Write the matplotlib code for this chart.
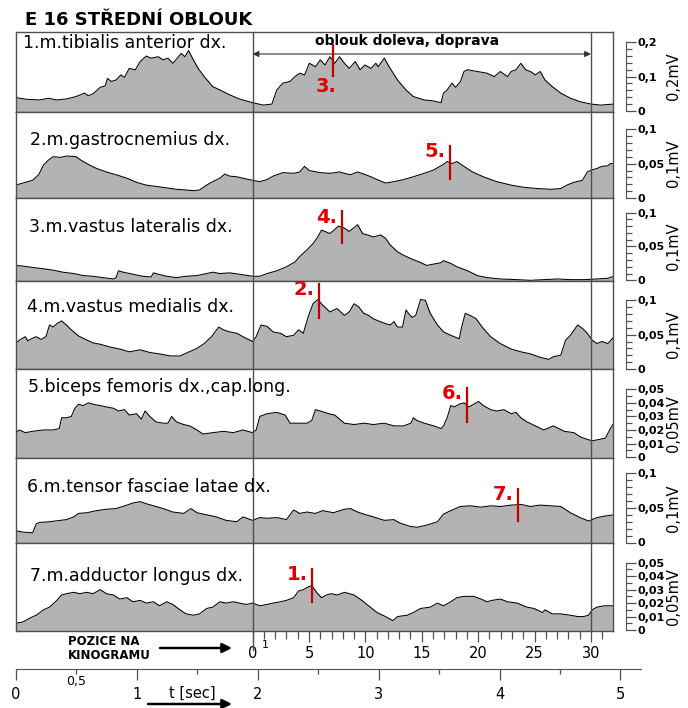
import matplotlib
matplotlib.use("Agg")
import matplotlib.pyplot as plt
import numpy as np

plt.rcParams['font.family'] = ['DejaVu Sans']

# kinogram frames 0 and 30 on the time axis [s]
KINO_T0 = 1.96
KINO_T30 = 4.76
T_END = 4.945
T_AXIS_END = 5.17

FILL = '#b3b3b3'
FRAME = '#505050'
RED = '#e00000'
RED_LINE = '#c40000'


def kino_t(pos):
    return KINO_T0 + pos * (KINO_T30 - KINO_T0) / 30.0


def fmt_mv(v):
    if abs(v) < 1e-9:
        return '0'
    return ('%g' % round(v, 3)).replace('.', ',')


# EMG envelopes, time [s] / amplitude [mV]
tib_t = [0.00, 0.09, 0.20, 0.27, 0.34, 0.42, 0.50, 0.57, 0.60, 0.64, 0.70, 0.74, 0.76, 0.79, 0.83, 0.87,
         0.90, 0.94, 0.99, 1.03, 1.08, 1.12, 1.18, 1.22, 1.26, 1.30, 1.33, 1.37, 1.40, 1.43, 1.47, 1.51,
         1.56, 1.63, 1.69, 1.77, 1.85, 1.96, 2.05, 2.12, 2.16, 2.21, 2.27, 2.31, 2.35, 2.39, 2.43, 2.48,
         2.52, 2.56, 2.60, 2.64, 2.68, 2.72, 2.76, 2.81, 2.85, 2.89, 2.94, 2.98, 3.00, 3.05, 3.09, 3.16,
         3.23, 3.29, 3.38, 3.46, 3.52, 3.54, 3.57, 3.61, 3.64, 3.68, 3.71, 3.74, 3.82, 3.90, 3.96, 4.01,
         4.07, 4.10, 4.14, 4.18, 4.22, 4.26, 4.30, 4.34, 4.38, 4.44, 4.51, 4.59, 4.67, 4.76, 4.84, 4.95]
tib_v = [0.039, 0.034, 0.032, 0.037, 0.032, 0.035, 0.042, 0.052, 0.044, 0.050, 0.069, 0.073, 0.095, 0.086,
         0.090, 0.105, 0.098, 0.124, 0.120, 0.144, 0.160, 0.154, 0.158, 0.149, 0.154, 0.139, 0.151, 0.168,
         0.158, 0.176, 0.149, 0.124, 0.100, 0.071, 0.061, 0.047, 0.035, 0.024, 0.017, 0.020, 0.061, 0.081,
         0.086, 0.100, 0.110, 0.105, 0.139, 0.129, 0.149, 0.134, 0.158, 0.139, 0.158, 0.139, 0.124, 0.144,
         0.120, 0.134, 0.124, 0.139, 0.129, 0.154, 0.129, 0.090, 0.061, 0.042, 0.032, 0.029, 0.024, 0.052,
         0.061, 0.081, 0.069, 0.086, 0.115, 0.120, 0.115, 0.110, 0.100, 0.115, 0.100, 0.115, 0.120, 0.139,
         0.120, 0.115, 0.105, 0.115, 0.090, 0.071, 0.052, 0.037, 0.027, 0.020, 0.017, 0.020]

gas_t = [0.00, 0.06, 0.14, 0.19, 0.23, 0.27, 0.31, 0.37, 0.42, 0.50, 0.54, 0.61, 0.67, 0.75, 0.83, 0.92,
         1.00, 1.08, 1.17, 1.25, 1.33, 1.41, 1.47, 1.52, 1.58, 1.63, 1.69, 1.73, 1.77, 1.83, 1.88, 1.96,
         2.02, 2.08, 2.13, 2.21, 2.30, 2.35, 2.39, 2.43, 2.52, 2.60, 2.68, 2.72, 2.77, 2.83, 2.88, 2.94,
         2.99, 3.06, 3.13, 3.21, 3.29, 3.38, 3.46, 3.53, 3.57, 3.61, 3.65, 3.71, 3.78, 3.87, 3.98, 4.10,
         4.20, 4.32, 4.43, 4.51, 4.56, 4.62, 4.69, 4.73, 4.77, 4.81, 4.85, 4.90, 4.92, 4.95]
gas_v = [0.019, 0.022, 0.026, 0.034, 0.048, 0.055, 0.060, 0.059, 0.061, 0.060, 0.055, 0.048, 0.043, 0.038,
         0.034, 0.029, 0.023, 0.019, 0.017, 0.015, 0.013, 0.012, 0.011, 0.012, 0.019, 0.024, 0.029, 0.035,
         0.032, 0.031, 0.029, 0.026, 0.024, 0.027, 0.032, 0.037, 0.036, 0.038, 0.046, 0.040, 0.037, 0.036,
         0.038, 0.036, 0.034, 0.038, 0.035, 0.031, 0.027, 0.022, 0.024, 0.027, 0.031, 0.036, 0.041, 0.048,
         0.053, 0.050, 0.053, 0.046, 0.038, 0.031, 0.024, 0.019, 0.016, 0.014, 0.013, 0.014, 0.019, 0.023,
         0.026, 0.038, 0.041, 0.043, 0.046, 0.047, 0.050, 0.050]

vl_t = [0.00, 0.06, 0.14, 0.23, 0.31, 0.39, 0.48, 0.56, 0.64, 0.72, 0.81, 0.83, 0.85, 0.89, 0.97, 1.05,
        1.12, 1.14, 1.18, 1.25, 1.33, 1.41, 1.50, 1.58, 1.63, 1.69, 1.77, 1.85, 1.96, 2.02, 2.08, 2.16,
        2.24, 2.31, 2.35, 2.41, 2.46, 2.50, 2.53, 2.56, 2.60, 2.64, 2.67, 2.72, 2.76, 2.78, 2.83, 2.87,
        2.91, 2.96, 3.02, 3.06, 3.10, 3.16, 3.21, 3.27, 3.34, 3.40, 3.46, 3.52, 3.54, 3.60, 3.65, 3.74,
        3.82, 3.90, 4.01, 4.15, 4.26, 4.37, 4.48, 4.59, 4.70, 4.81, 4.90, 4.95]
vl_v = [0.022, 0.021, 0.019, 0.017, 0.015, 0.012, 0.010, 0.007, 0.006, 0.004, 0.002, 0.004, 0.014, 0.012,
        0.009, 0.006, 0.005, 0.011, 0.009, 0.006, 0.004, 0.006, 0.007, 0.010, 0.012, 0.010, 0.011, 0.009,
        0.006, 0.006, 0.010, 0.014, 0.020, 0.027, 0.035, 0.045, 0.054, 0.064, 0.074, 0.072, 0.069, 0.075,
        0.080, 0.077, 0.072, 0.075, 0.082, 0.069, 0.067, 0.064, 0.067, 0.062, 0.052, 0.042, 0.037, 0.032,
        0.027, 0.022, 0.024, 0.026, 0.029, 0.025, 0.020, 0.014, 0.007, 0.004, 0.002, 0.001, 0.000, 0.001,
        0.002, 0.001, 0.001, 0.002, 0.003, 0.006]

vm_t = [0.00, 0.03, 0.08, 0.10, 0.13, 0.17, 0.21, 0.25, 0.28, 0.31, 0.34, 0.38, 0.42, 0.46, 0.52, 0.59,
        0.64, 0.70, 0.78, 0.86, 0.94, 1.03, 1.11, 1.19, 1.28, 1.36, 1.41, 1.50, 1.56, 1.62, 1.68, 1.72,
        1.77, 1.83, 1.88, 1.96, 1.99, 2.03, 2.08, 2.13, 2.19, 2.24, 2.30, 2.34, 2.38, 2.42, 2.46, 2.50,
        2.54, 2.60, 2.66, 2.72, 2.76, 2.80, 2.84, 2.88, 2.92, 2.96, 3.00, 3.06, 3.10, 3.13, 3.16, 3.20,
        3.23, 3.25, 3.28, 3.31, 3.35, 3.39, 3.43, 3.49, 3.54, 3.60, 3.67, 3.69, 3.72, 3.76, 3.81, 3.86,
        3.93, 4.01, 4.10, 4.18, 4.26, 4.34, 4.41, 4.45, 4.51, 4.55, 4.59, 4.65, 4.69, 4.73, 4.77, 4.81,
        4.85, 4.90, 4.95]
vm_v = [0.037, 0.042, 0.047, 0.041, 0.044, 0.047, 0.043, 0.047, 0.064, 0.061, 0.066, 0.070, 0.064, 0.057,
        0.048, 0.042, 0.038, 0.036, 0.032, 0.029, 0.025, 0.028, 0.024, 0.022, 0.019, 0.019, 0.023, 0.030,
        0.037, 0.047, 0.061, 0.057, 0.054, 0.052, 0.047, 0.040, 0.047, 0.064, 0.062, 0.054, 0.052, 0.047,
        0.049, 0.057, 0.052, 0.076, 0.095, 0.101, 0.093, 0.083, 0.088, 0.078, 0.083, 0.095, 0.090, 0.081,
        0.078, 0.073, 0.070, 0.066, 0.064, 0.069, 0.061, 0.061, 0.086, 0.081, 0.075, 0.078, 0.101, 0.100,
        0.081, 0.064, 0.054, 0.049, 0.044, 0.061, 0.081, 0.078, 0.073, 0.061, 0.047, 0.037, 0.029, 0.025,
        0.022, 0.017, 0.014, 0.018, 0.020, 0.042, 0.049, 0.064, 0.059, 0.052, 0.042, 0.037, 0.040, 0.037,
        0.047]

bf_t = [0.00, 0.03, 0.08, 0.14, 0.23, 0.31, 0.36, 0.38, 0.42, 0.46, 0.49, 0.52, 0.56, 0.60, 0.64, 0.70,
        0.75, 0.81, 0.85, 0.90, 0.94, 1.00, 1.04, 1.07, 1.11, 1.16, 1.22, 1.26, 1.29, 1.33, 1.39, 1.44,
        1.50, 1.55, 1.63, 1.72, 1.80, 1.88, 1.96, 1.99, 2.02, 2.08, 2.16, 2.23, 2.27, 2.32, 2.41, 2.45,
        2.48, 2.52, 2.59, 2.64, 2.72, 2.80, 2.88, 2.96, 3.05, 3.13, 3.21, 3.27, 3.29, 3.32, 3.38, 3.46,
        3.52, 3.54, 3.57, 3.60, 3.63, 3.67, 3.71, 3.75, 3.79, 3.83, 3.87, 3.93, 3.98, 4.04, 4.10, 4.14,
        4.18, 4.23, 4.30, 4.37, 4.45, 4.54, 4.62, 4.67, 4.73, 4.77, 4.83, 4.88, 4.92, 4.95]
bf_v = [0.018, 0.020, 0.018, 0.019, 0.020, 0.020, 0.021, 0.029, 0.029, 0.030, 0.036, 0.039, 0.038, 0.040,
        0.039, 0.038, 0.037, 0.036, 0.034, 0.035, 0.031, 0.032, 0.028, 0.034, 0.030, 0.026, 0.025, 0.025,
        0.030, 0.026, 0.024, 0.023, 0.020, 0.017, 0.018, 0.019, 0.018, 0.020, 0.018, 0.020, 0.030, 0.032,
        0.033, 0.031, 0.025, 0.025, 0.025, 0.027, 0.035, 0.034, 0.032, 0.031, 0.025, 0.024, 0.025, 0.024,
        0.025, 0.023, 0.023, 0.025, 0.029, 0.027, 0.025, 0.023, 0.021, 0.023, 0.029, 0.038, 0.037, 0.039,
        0.040, 0.037, 0.039, 0.041, 0.038, 0.035, 0.034, 0.035, 0.032, 0.033, 0.029, 0.026, 0.023, 0.020,
        0.023, 0.019, 0.018, 0.015, 0.013, 0.012, 0.013, 0.014, 0.021, 0.025]

tfl_t = [0.00, 0.06, 0.14, 0.17, 0.20, 0.28, 0.37, 0.42, 0.48, 0.52, 0.59, 0.67, 0.75, 0.83, 0.92, 0.97,
         1.03, 1.08, 1.14, 1.22, 1.30, 1.39, 1.45, 1.50, 1.58, 1.66, 1.74, 1.83, 1.88, 1.96, 2.02, 2.08,
         2.16, 2.24, 2.30, 2.35, 2.41, 2.48, 2.54, 2.63, 2.72, 2.77, 2.83, 2.88, 2.96, 3.05, 3.13, 3.18,
         3.27, 3.32, 3.40, 3.49, 3.54, 3.60, 3.68, 3.76, 3.85, 3.93, 4.01, 4.10, 4.18, 4.26, 4.34, 4.43,
         4.51, 4.59, 4.67, 4.74, 4.81, 4.87, 4.95]
tfl_v = [0.017, 0.015, 0.014, 0.027, 0.029, 0.030, 0.032, 0.033, 0.037, 0.042, 0.043, 0.046, 0.048, 0.049,
         0.054, 0.057, 0.059, 0.056, 0.053, 0.049, 0.044, 0.042, 0.049, 0.043, 0.040, 0.037, 0.032, 0.030,
         0.037, 0.032, 0.036, 0.035, 0.036, 0.033, 0.047, 0.042, 0.044, 0.042, 0.046, 0.043, 0.048, 0.049,
         0.044, 0.041, 0.037, 0.032, 0.033, 0.028, 0.023, 0.022, 0.025, 0.030, 0.041, 0.046, 0.052, 0.053,
         0.051, 0.053, 0.052, 0.054, 0.055, 0.052, 0.054, 0.053, 0.052, 0.043, 0.036, 0.031, 0.036, 0.038,
         0.040]

al_t = [0.00, 0.06, 0.12, 0.17, 0.23, 0.28, 0.34, 0.38, 0.42, 0.48, 0.53, 0.59, 0.64, 0.70, 0.75, 0.81,
        0.86, 0.92, 0.97, 1.03, 1.08, 1.14, 1.19, 1.25, 1.30, 1.36, 1.41, 1.47, 1.52, 1.58, 1.63, 1.69,
        1.74, 1.80, 1.85, 1.91, 1.96, 2.02, 2.08, 2.13, 2.19, 2.24, 2.30, 2.34, 2.38, 2.42, 2.45, 2.49,
        2.53, 2.57, 2.61, 2.66, 2.72, 2.80, 2.85, 2.92, 2.99, 3.06, 3.12, 3.16, 3.24, 3.29, 3.35, 3.43,
        3.49, 3.54, 3.60, 3.65, 3.71, 3.79, 3.85, 3.90, 3.94, 4.01, 4.07, 4.15, 4.23, 4.29, 4.36, 4.38,
        4.44, 4.51, 4.59, 4.65, 4.70, 4.74, 4.77, 4.81, 4.87, 4.92, 4.95]
al_v = [0.005, 0.006, 0.009, 0.011, 0.015, 0.017, 0.022, 0.026, 0.027, 0.028, 0.027, 0.028, 0.027, 0.030,
        0.027, 0.026, 0.023, 0.024, 0.021, 0.022, 0.020, 0.021, 0.018, 0.021, 0.019, 0.015, 0.012, 0.011,
        0.012, 0.016, 0.017, 0.021, 0.020, 0.021, 0.020, 0.019, 0.020, 0.018, 0.019, 0.020, 0.021, 0.022,
        0.024, 0.029, 0.030, 0.032, 0.033, 0.028, 0.024, 0.026, 0.027, 0.026, 0.028, 0.026, 0.023, 0.018,
        0.013, 0.010, 0.007, 0.010, 0.011, 0.013, 0.016, 0.017, 0.020, 0.018, 0.021, 0.024, 0.025, 0.025,
        0.023, 0.021, 0.022, 0.023, 0.021, 0.020, 0.017, 0.016, 0.013, 0.015, 0.012, 0.012, 0.011, 0.010,
        0.010, 0.011, 0.015, 0.017, 0.018, 0.018, 0.018]

muscles = ['1.m.tibialis anterior dx.', '2.m.gastrocnemius dx.', '3.m.vastus lateralis dx.',
           '4.m.vastus medialis dx.', '5.biceps femoris dx.,cap.long.', '6.m.tensor fasciae latae dx.',
           '7.m.adductor longus dx.']
series = [(tib_t, tib_v), (gas_t, gas_v), (vl_t, vl_v), (vm_t, vm_v),
          (bf_t, bf_v), (tfl_t, tfl_v), (al_t, al_v)]
scale_max = [0.2, 0.1, 0.1, 0.1, 0.05, 0.1, 0.05]
scale_units = ['0,2mV', '0,1mV', '0,1mV', '0,1mV', '0,05mV', '0,1mV', '0,05mV']

# (panel, label, kinogram position, label side)
markers = [(0, '3.', 7.1, 'below'), (1, '5.', 17.5, 'left'), (2, '4.', 7.9, 'left'),
           (3, '2.', 5.9, 'left'), (4, '6.', 19.0, 'left'), (5, '7.', 23.5, 'left'),
           (6, '1.', 5.25, 'left')]

# panel layout (pixels of a 688x708 canvas)
W, H = 688.0, 708.0
edges = [31.7, 112.3, 198.3, 281.0, 369.0, 458.0, 542.5, 630.7]
x_left, x_right = 15.7, 613.3
y_lo = [-0.004, 0.0, -0.001, 0.0, -0.0007, 0.0, -0.0005]
y_hi = [0.231, 0.124, 0.121, 0.128, 0.065, 0.122, 0.065]
name_offsets = [(5, -8), (10, -20), (9.5, -21), (8, -19), (8.5, -13), (8, -21), (10, -24)]

fig = plt.figure(figsize=(W / 100, H / 100), dpi=100)

axes = []
for i in range(7):
    top, bot = edges[i], edges[i + 1]
    ax = fig.add_axes([x_left / W, 1 - bot / H, (x_right - x_left) / W, (bot - top) / H])
    t, v = series[i]
    ax.fill_between(t, v, y_lo[i], color=FILL, lw=0)
    ax.plot(t, v, color='black', lw=0.75)
    ax.set_xlim(0, T_END)
    ax.set_ylim(y_lo[i], y_hi[i])
    ax.set_yticks([])
    if i < 6:
        ax.set_xticks([])
    for s in ax.spines.values():
        s.set_color(FRAME)
        s.set_linewidth(1.0)
    ax.axvline(KINO_T0, color=FRAME, lw=1.0)
    ax.axvline(KINO_T30, color=FRAME, lw=1.0)
    ax.annotate(muscles[i], xy=(0, 1), xycoords='axes fraction', xytext=name_offsets[i],
                textcoords='offset points', ha='left', va='center', fontsize=12.5)

    # amplitude scale bar on the right
    top_mv = scale_max[i]
    if top_mv == 0.2:
        major, minor_step = [0, 0.1, 0.2], 0.02
    elif top_mv == 0.1:
        major, minor_step = [0, 0.05, 0.1], 0.01
    else:
        major, minor_step = list(np.linspace(0, 0.05, 6)), 0.005
    sc = ax.twinx()
    sc.set_ylim(y_lo[i], y_hi[i])
    for name in ['top', 'bottom', 'left']:
        sc.spines[name].set_visible(False)
    sc.spines['right'].set_position(('outward', 9.1))
    sc.spines['right'].set_bounds(0, top_mv)
    sc.spines['right'].set_color(FRAME)
    sc.set_yticks(major)
    sc.set_yticklabels([fmt_mv(m) for m in major], fontweight='bold')
    sc.set_yticks(np.arange(0, top_mv + 1e-9, minor_step), minor=True)
    sc.tick_params(axis='y', which='major', direction='out', length=7, width=0.9,
                   color=FRAME, labelsize=8, pad=1)
    sc.tick_params(axis='y', which='minor', direction='out', length=4.3, width=0.9, color=FRAME)
    ax.text(1.10, top_mv / 2, scale_units[i], transform=ax.get_yaxis_transform(),
            rotation=90, ha='center', va='center', fontsize=10.5)
    axes.append(ax)

# numbered kinogram phases
for idx, label, pos, side in markers:
    ax = axes[idx]
    t, v = series[idx]
    tm = kino_t(pos)
    c = np.interp(tm, t, v)
    half = 0.19 * (y_hi[idx] - y_lo[idx])
    ax.plot([tm, tm], [c - half, c + half], color=RED_LINE, lw=1.6, zorder=4)
    if side == 'below':
        ax.annotate(label, xy=(tm, c - half), xytext=(-5, -1), textcoords='offset points',
                    ha='center', va='top', color=RED, fontsize=14, fontweight='bold')
    else:
        ax.annotate(label, xy=(tm, c + half), xytext=(-3, -4), textcoords='offset points',
                    ha='right', va='center', color=RED, fontsize=14, fontweight='bold')

# turn annotation in the first panel
ax1 = axes[0]
ax1.annotate('', xy=(KINO_T0, 0.166), xytext=(KINO_T30, 0.166),
             arrowprops=dict(arrowstyle='<|-|>', color='#333333', lw=0.8,
                             mutation_scale=9, shrinkA=0, shrinkB=0))
ax1.text(3.24, 0.204, 'oblouk doleva, doprava', ha='center', va='center',
         fontsize=10, fontweight='bold')

# kinogram positions under the last panel
ax7 = axes[6]
pos_major = list(range(0, 31, 5))
ax7.set_xticks([kino_t(p) for p in pos_major])
ax7.set_xticklabels([str(p) for p in pos_major])
ax7.set_xticks([kino_t(p) for p in range(1, 32) if p % 5], minor=True)
ax7.tick_params(axis='x', which='major', direction='out', length=8, width=0.9,
                color=FRAME, labelsize=10.5, pad=3)
ax7.tick_params(axis='x', which='minor', direction='out', length=5.8, width=0.9, color=FRAME)
ax7.axvline(KINO_T0, ymin=-0.22, ymax=0, color=FRAME, lw=1.0, clip_on=False)
ax7.annotate('1', xy=(kino_t(1), 0), xycoords=ax7.get_xaxis_transform(), xytext=(1, -6.5),
             textcoords='offset points', ha='center', va='top', fontsize=8)

fig.text(68 / W, 1 - 648.5 / H, 'POZICE NA\nKINOGRAMU', ha='left', va='center',
         fontsize=8.5, fontweight='bold', linespacing=1.05)
ax7.annotate('', xy=(232 / W, 1 - 648 / H), xytext=(160 / W, 1 - 648 / H),
             xycoords='figure fraction', annotation_clip=False,
             arrowprops=dict(arrowstyle='-|>', color='black', lw=1.8,
                             mutation_scale=14, shrinkA=0, shrinkB=0))

# time axis
ax_t = fig.add_axes([16 / W, 1 - 669 / H, (641 - 16) / W, 0.01])
ax_t.set_xlim(0, T_AXIS_END)
ax_t.set_yticks([])
ax_t.patch.set_visible(False)
for name in ['top', 'left', 'right']:
    ax_t.spines[name].set_visible(False)
ax_t.spines['bottom'].set_color(FRAME)
ax_t.set_xticks(range(6))
ax_t.set_xticklabels([str(s) for s in range(6)])
ax_t.set_xticks([0.5, 1.5, 2.5, 3.5, 4.5], minor=True)
ax_t.set_xticklabels(['0,5', '', '', '', ''], minor=True)
ax_t.tick_params(axis='x', which='major', direction='out', length=8, width=0.9,
                 color=FRAME, labelsize=10.5, pad=5)
ax_t.tick_params(axis='x', which='minor', direction='out', length=3.6, width=0.9,
                 color=FRAME, labelsize=9, pad=0.5)

fig.text(192 / W, 1 - 693 / H, 't [sec]', ha='center', va='center', fontsize=10.5)
ax_t.annotate('', xy=(232 / W, 1 - 704 / H), xytext=(148 / W, 1 - 704 / H),
              xycoords='figure fraction', annotation_clip=False,
              arrowprops=dict(arrowstyle='-|>', color='black', lw=1.8,
                              mutation_scale=14, shrinkA=0, shrinkB=0))

fig.text(25 / W, 1 - 20 / H, 'E 16 STŘEDNÍ OBLOUK', ha='left', va='center',
         fontsize=13, fontweight='bold')

fig.savefig('out.png', dpi=100)
